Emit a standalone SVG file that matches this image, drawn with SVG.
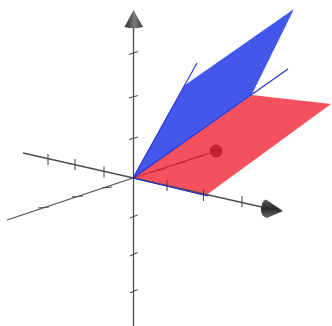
<svg xmlns="http://www.w3.org/2000/svg" width="332" height="326" viewBox="0 0 332 326">
  <defs>
    <linearGradient id="coneV" x1="0" y1="0" x2="1" y2="0">
      <stop offset="0" stop-color="#2e2e2e"/>
      <stop offset="0.55" stop-color="#7a7a7a"/>
      <stop offset="1" stop-color="#3a3a3a"/>
    </linearGradient>
    <linearGradient id="coneH" x1="0" y1="0" x2="0" y2="1">
      <stop offset="0" stop-color="#5a5a5a"/>
      <stop offset="0.5" stop-color="#2a2a2a"/>
      <stop offset="1" stop-color="#6a6a6a"/>
    </linearGradient>
    <style>
      .axis { stroke: #4d4d4d; stroke-width: 1.3; fill: none; }
      .tick { stroke: #4d4d4d; stroke-width: 1.1; fill: none; }
      .bline { stroke: #1f2fd8; stroke-width: 1.1; fill: none; }
    </style>
  </defs>
  <rect width="332" height="326" fill="#ffffff"/>

  <!-- depth axis, far part (behind red plane) -->
  <g id="depth-axis-back">
    <line class="axis" x1="133" y1="178" x2="212" y2="152.5"/>
    <line class="tick" x1="157" y1="170.5" x2="166" y2="168.5"/>
    <line class="tick" x1="176" y1="164" x2="185" y2="162"/>
    <line class="tick" x1="195" y1="157.5" x2="204" y2="155.5"/>
    <circle cx="216" cy="151" r="6.5" fill="#444444"/>
  </g>

  <!-- red plane (semi-transparent) -->
  <g id="red-plane">
    <polygon points="133,178 252,95 331,104 205,196" fill="rgb(241,21,40)" fill-opacity="0.75"/>
  </g>

  <!-- blue plane -->
  <g id="blue-plane">
    <polygon points="133,178 185,85 294,9 252,94" fill="#4358ea"/>
  </g>

  <g id="connectors">
    <!-- vertical axis -->
    <g id="z-axis">
      <line class="axis" x1="133.5" y1="26" x2="133.5" y2="326"/>
      <line class="tick" x1="129" y1="54.5" x2="138" y2="51.5"/>
      <line class="tick" x1="129" y1="98" x2="138" y2="95.5"/>
      <line class="tick" x1="129" y1="139.5" x2="138" y2="137"/>
      <line class="tick" x1="130" y1="218" x2="137.5" y2="215"/>
      <line class="tick" x1="130" y1="256" x2="137.5" y2="252.5"/>
      <line class="tick" x1="130" y1="293" x2="137.5" y2="289.5"/>
      <path d="M133.5,10 L143,27 Q134,29.5 124.5,27 Z" fill="url(#coneV)"/>
    </g>

    <!-- horizontal axis (to the right) -->
    <g id="x-axis">
      <line class="axis" x1="23" y1="153" x2="264" y2="207.5"/>
      <line class="tick" x1="48" y1="154" x2="48" y2="165"/>
      <line class="tick" x1="75" y1="159" x2="75" y2="170"/>
      <line class="tick" x1="104" y1="166.5" x2="104" y2="177.5"/>
      <line class="tick" x1="167" y1="180" x2="167" y2="191"/>
      <line class="tick" x1="203.5" y1="189.5" x2="203.5" y2="201"/>
      <line class="tick" x1="242" y1="196" x2="242" y2="207"/>
      <path d="M283,211 L267,218 Q260.5,216.5 261,208.5 Q262,200.5 266,199.5 Z" fill="url(#coneH)"/>
    </g>

    <!-- depth axis, near part -->
    <g id="y-axis">
      <line class="axis" x1="7" y1="220" x2="133" y2="178"/>
      <line class="tick" x1="38" y1="208" x2="49" y2="207"/>
      <line class="tick" x1="72" y1="197" x2="83" y2="196"/>
      <line class="tick" x1="102" y1="188" x2="112" y2="187"/>
    </g>

    <!-- blue lines -->
    <g id="blue-lines">
      <line class="bline" x1="133" y1="178" x2="288" y2="69"/>
      <line class="bline" x1="133" y1="178" x2="197" y2="63"/>
      <line class="bline" x1="133" y1="178" x2="208" y2="196"/>
    </g>
  </g>
</svg>
